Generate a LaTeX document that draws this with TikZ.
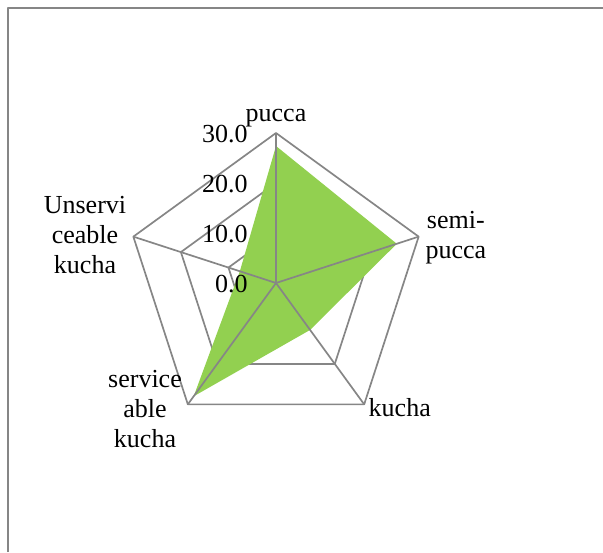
\documentclass[tikz,border=0pt]{standalone}
\usepackage{fontspec}
\setmainfont{Liberation Serif}
\definecolor{gridgray}{HTML}{868686}
\definecolor{fillgreen}{HTML}{92D050}

\begin{document}
\begin{tikzpicture}[x=0.5pt,y=0.5pt,
  grid/.style={draw=gridgray,line width=0.85pt,line join=round},
  lab/.style={font=\fontsize{13}{15}\selectfont,align=center,inner sep=0pt}]
\useasboundingbox (0,0) rectangle (603,552);
\draw[grid,line width=1pt] (7.5,0) -- (7.5,544) -- (603,544);
\coordinate (c) at (276,269);
\foreach \a/\n in {90/p,18/sp,-54/k,-126/sk,162/uk}
  \coordinate (\n) at ([shift={(\a:150)}]c);
\foreach \r in {50,100,150}
  \draw[grid,shift={(c)}] (90:\r) -- (18:\r) -- (-54:\r) -- (-126:\r) -- (162:\r) -- cycle;
\fill[fillgreen,shift={(c)}] (90:137) -- (18:127) -- (-54:58) -- (-126:140) -- (162:38) -- cycle;
\foreach \n in {p,sp,k,sk,uk}
  \draw[grid] (c) -- (\n);
\foreach \v/\r in {0/0,10/50,20/100,30/150}
  \node[lab,anchor=east] (t\v) at (248,268+\r) {\v.0};
\node[lab,anchor=base] (lp) at (276,430.5) {pucca};
\node[lab] (lsp) at (455.8,314.8) {semi-\\pucca};
\node[lab,anchor=base west] (lk) at (368.3,135.3) {kucha};
\node[lab] (lsk) at (145,143.1) {service\\able\\kucha};
\node[lab] (luk) at (85,317.3) {Unservi\\ceable\\kucha};
\end{tikzpicture}
\end{document}
